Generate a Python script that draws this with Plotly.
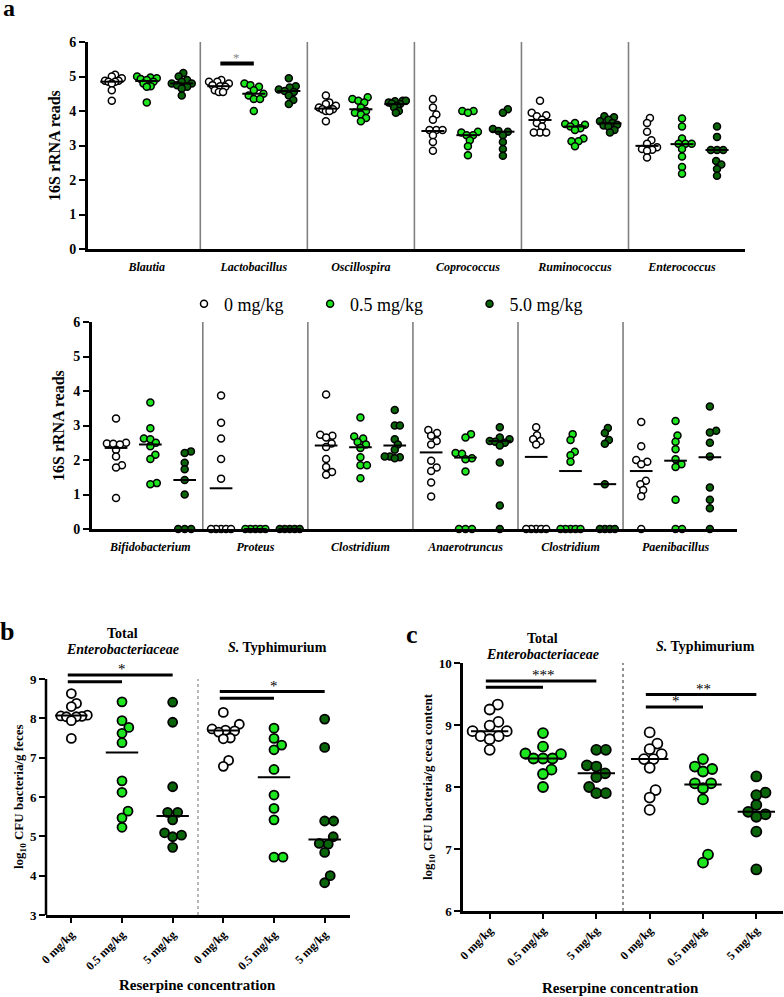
import plotly.graph_objects as go

W, H = 784, 997
FONT = "Liberation Serif"
DOSE_COLORS = ["white", "#1ee61e", "#0a640a"]
DOSE_NAMES = ["0 mg/kg", "0.5 mg/kg", "5.0 mg/kg"]
LEGEND_PAD = ["\u2002\u2002\u2009", "\u2002\u2002\u2002\u2009\u2009\u2009\u2009", ""]

# ---- panel a, top row: 16S rRNA reads for doses 0 / 0.5 / 5.0 mg/kg
top_genera = ["Blautia", "Lactobacillus", "Oscillospira", "Coprococcus", "Ruminococcus", "Enterococcus"]
blautia = [[5.05, 5.0, 4.95, 4.88, 4.88, 4.85, 4.85, 4.8, 4.6, 4.3],
           [5.0, 4.97, 4.95, 4.93, 4.9, 4.85, 4.8, 4.72, 4.7, 4.25],
           [5.1, 5.0, 4.9, 4.85, 4.8, 4.8, 4.75, 4.7, 4.65, 4.45]]
lactobacillus = [[4.9, 4.85, 4.85, 4.8, 4.75, 4.72, 4.7, 4.6, 4.55, 4.55],
                 [4.8, 4.75, 4.7, 4.6, 4.5, 4.45, 4.35, 4.35, 4.0],
                 [4.95, 4.72, 4.68, 4.62, 4.58, 4.55, 4.45, 4.32, 4.2]]
oscillospira = [[4.45, 4.25, 4.2, 4.15, 4.1, 4.05, 4.05, 4.0, 4.0, 3.7],
                [4.4, 4.35, 4.3, 4.25, 4.1, 4.0, 3.95, 3.9, 3.8, 3.7],
                [4.3, 4.3, 4.28, 4.25, 4.22, 4.2, 4.15, 4.1, 4.0, 3.95]]
coprococcus = [[4.35, 4.1, 3.9, 3.75, 3.45, 3.45, 3.45, 3.3, 3.1, 2.85],
               [4.0, 4.0, 3.95, 3.4, 3.38, 3.3, 3.3, 3.15, 2.98, 2.72],
               [4.05, 3.95, 3.48, 3.42, 3.4, 3.3, 3.1, 2.9, 2.7]]
ruminococcus = [[4.3, 3.95, 3.88, 3.85, 3.75, 3.65, 3.55, 3.38, 3.38, 3.38],
                [3.65, 3.62, 3.6, 3.55, 3.5, 3.45, 3.2, 3.12, 3.12, 2.98],
                [3.85, 3.82, 3.75, 3.7, 3.65, 3.6, 3.58, 3.55, 3.45, 3.38]]
enterococcus = [[3.8, 3.65, 3.4, 3.15, 3.05, 2.95, 2.9, 2.88, 2.85, 2.65],
                [3.78, 3.55, 3.2, 3.05, 3.05, 3.05, 2.9, 2.68, 2.38, 2.18],
                [3.55, 3.25, 2.87, 2.87, 2.87, 2.55, 2.45, 2.32, 2.12]]
top_values = [blautia, lactobacillus, oscillospira, coprococcus, ruminococcus, enterococcus]
top_centers = [[4.85, 4.87, 4.8], [4.72, 4.5, 4.58], [4.07, 4.05, 4.2],
               [3.42, 3.3, 3.4], [3.74, 3.55, 3.64], [2.99, 3.04, 2.87]]
top_sig = [(1, 0, 1, 5.38, "*")]  # group, dose a, dose b, height, label

# ---- panel a, bottom row
bottom_genera = ["Bifidobacterium", "Proteus", "Clostridium", "Anaerotruncus", "Clostridium", "Paenibacillus"]
bifidobacterium = [[3.2, 2.5, 2.48, 2.47, 2.45, 2.3, 2.1, 1.85, 1.78, 0.9],
                   [3.67, 2.92, 2.62, 2.6, 2.5, 2.4, 2.15, 2.03, 1.33, 1.3],
                   [2.25, 2.2, 1.92, 1.73, 1.42, 1.0, 0, 0, 0]]
proteus = [[3.87, 3.08, 2.62, 2.03, 1.46, 0, 0, 0, 0, 0],
           [0, 0, 0, 0, 0],
           [0, 0, 0, 0, 0]]
clostridium_1 = [[3.9, 2.73, 2.7, 2.65, 2.48, 2.38, 2.03, 1.8, 1.65, 1.57],
                 [3.23, 2.68, 2.62, 2.52, 2.45, 2.35, 2.08, 1.85, 1.85, 1.47],
                 [3.45, 3.0, 3.0, 2.6, 2.45, 2.3, 2.1, 2.1, 2.08, 2.05]]
anaerotruncus = [[2.87, 2.78, 2.7, 2.55, 2.45, 1.98, 1.78, 1.68, 1.35, 0.94],
                 [2.75, 2.65, 2.2, 2.18, 2.05, 2.02, 1.67, 0, 0, 0],
                 [2.95, 2.65, 2.6, 2.55, 2.53, 2.5, 2.42, 1.93, 0.68, 0]]
clostridium_2 = [[2.95, 2.72, 2.6, 2.55, 2.45, 0, 0, 0, 0, 0],
                 [2.75, 2.58, 2.24, 2.14, 1.95, 0, 0, 0, 0, 0],
                 [2.93, 2.78, 2.58, 2.47, 1.3, 0, 0, 0, 0]]
paenibacillus = [[3.1, 2.4, 2.0, 1.95, 1.88, 1.4, 1.3, 1.13, 0.95, 0],
                 [3.13, 2.71, 2.53, 2.31, 2.02, 1.88, 1.8, 0.85, 0, 0],
                 [3.55, 2.85, 2.8, 2.5, 2.1, 1.2, 0.85, 0.6, 0]]
bottom_values = [bifidobacterium, proteus, clostridium_1, anaerotruncus, clostridium_2, paenibacillus]
bottom_centers = [[2.35, 2.45, 1.42], [1.18, 0, 0], [2.42, 2.37, 2.42],
                  [2.22, 2.07, 2.55], [2.09, 1.68, 1.3], [1.68, 1.98, 2.08]]

# ---- panels b (feces) and c (ceca), log10 CFU
dose_ticks = ["0 mg/kg", "0.5 mg/kg", "5 mg/kg", "0 mg/kg", "0.5 mg/kg", "5 mg/kg"]
b_total = [[8.63, 8.38, 8.3, 8.08, 8.06, 8.05, 8.04, 8.04, 7.94, 7.49],
           [8.42, 7.94, 7.77, 7.62, 7.38, 6.41, 6.12, 5.64, 5.47, 5.23],
           [8.41, 7.9, 6.26, 5.61, 5.61, 5.42, 5.09, 5.03, 4.99, 4.72]]
b_typhi = [[8.15, 7.85, 7.73, 7.7, 7.68, 7.65, 7.5, 7.48, 6.93, 6.78],
           [7.75, 7.49, 7.32, 7.2, 6.7, 6.05, 5.71, 5.42, 4.47, 4.47],
           [7.98, 7.26, 5.39, 5.39, 4.99, 4.82, 4.8, 4.59, 4.0, 3.82]]
b_centers = [8.07, 7.13, 5.52, 7.69, 6.5, 4.92]
b_sig = [(0, 1, 8.93, ""), (0, 2, 9.1, "*"), (3, 4, 8.51, ""), (3, 5, 8.68, "*")]

c_total = [[9.33, 9.25, 9.05, 8.99, 8.9, 8.9, 8.82, 8.82, 8.77, 8.6],
           [8.87, 8.65, 8.54, 8.53, 8.46, 8.46, 8.46, 8.28, 8.21, 8.0],
           [8.6, 8.6, 8.35, 8.33, 8.22, 8.16, 8.0, 7.9, 7.9]]
c_typhi = [[8.88, 8.7, 8.61, 8.53, 8.45, 8.45, 8.31, 7.95, 7.83, 7.63],
           [8.45, 8.33, 8.29, 8.25, 8.06, 8.06, 7.98, 7.8, 6.91, 6.78],
           [8.17, 7.91, 7.87, 7.71, 7.6, 7.56, 7.52, 7.28, 6.67]]
c_centers = [8.9, 8.46, 8.22, 8.45, 8.04, 7.6]
c_sig = [(0, 1, 9.61, ""), (0, 2, 9.71, "***"), (3, 4, 9.29, "*"), (3, 5, 9.49, "**")]

G = 3.06  # width of one genus group in column units (panel a)


def px(x):
    return x / W


def py(y):
    return 1 - y / H


def swarm(vals, diam, ppu_y, ppu_x, limit):
    # simple beeswarm: put each point as close to the centre as it can go
    ys = [v * ppu_y for v in vals]
    xs = [0.0] * len(vals)
    placed = []
    for i in sorted(range(len(vals)), key=lambda k: ys[k]):
        y = ys[i]
        cands = [0.0]
        for qy, qx in placed:
            dy = abs(y - qy)
            if dy < diam:
                dx = (diam ** 2 - dy ** 2) ** 0.5
                cands += [qx + dx, qx - dx]
        cands.sort(key=lambda c: (abs(c), -c))
        for c in cands:
            if all((c - qx) ** 2 + (y - qy) ** 2 >= diam ** 2 - 1e-6 for qy, qx in placed):
                xs[i] = c
                break
        placed.append((y, xs[i]))
    m = max(abs(x) for x in xs)
    if m > limit:
        xs = [x * limit / m for x in xs]
    return [x / ppu_x for x in xs]


fig = go.Figure()


def add_columns(cols, xa, ya, size, lw, diam, ppu_y, ppu_x, limit, legend=False):
    # cols: list of (x position, values, dose index)
    for d in range(3):
        xs, ys = [], []
        for xc, vals, dd in cols:
            if dd != d:
                continue
            offs = swarm(vals, diam, ppu_y, ppu_x, limit)
            xs += [xc + o for o in offs]
            ys += vals
        fig.add_trace(go.Scatter(
            x=xs, y=ys, mode="markers", xaxis=xa, yaxis=ya, cliponaxis=False,
            name=DOSE_NAMES[d] + LEGEND_PAD[d], showlegend=legend, hoverinfo="skip",
            marker=dict(symbol="circle", size=size, color=DOSE_COLORS[d],
                        line=dict(color="black", width=lw))))


def add_centers(centers, xa, ya, half, lw=2):
    xs, ys = [], []
    for xc, c in centers:
        xs += [xc - half, xc + half, None]
        ys += [c, c, None]
    fig.add_trace(go.Scatter(x=xs, y=ys, mode="lines", xaxis=xa, yaxis=ya, cliponaxis=False,
                             showlegend=False, hoverinfo="skip",
                             line=dict(color="black", width=lw)))


def add_sig(bars, xa, ya, width, star_size, star_color="black", start=-0.1):
    # bars drawn as head-less annotation arrows
    for x0, x1, h, lab in bars:
        fig.add_annotation(x=x1, y=h, ax=x0 + start, ay=h, xref=xa, yref=ya, axref=xa, ayref=ya,
                           text="", showarrow=True, arrowhead=0, arrowwidth=width,
                           arrowcolor="black", standoff=0, startstandoff=0)
        if lab:
            fig.add_annotation(x=(x0 + x1) / 2, y=h, xref=xa, yref=ya, text=lab, showarrow=False,
                               xanchor="center", yanchor="bottom", yshift=-4,
                               font=dict(family=FONT, size=star_size, color=star_color))


# panel a top
cols = [(g * G + d - 1, top_values[g][d], d) for g in range(6) for d in range(3)]
add_columns(cols, "x", "y", 7, 1.5, 6.2, 34.5, 35, 10, legend=True)
add_centers([(g * G + d - 1, top_centers[g][d]) for g in range(6) for d in range(3)], "x", "y", 0.33)
add_sig([(top_sig[0][0] * G + top_sig[0][1] - 1, top_sig[0][0] * G + top_sig[0][2] - 1,
          top_sig[0][3], top_sig[0][4])], "x", "y", 4, 13, "#888888", start=0)

# panel a bottom
cols = [(g * G + d - 1, bottom_values[g][d], d) for g in range(6) for d in range(3)]
add_columns(cols, "x2", "y2", 7, 1.5, 6.5, 34.5, 34.3, 10)
add_centers([(g * G + d - 1, bottom_centers[g][d]) for g in range(6) for d in range(3)], "x2", "y2", 0.33)

# panel b
cols = [(d, b_total[d], d) for d in range(3)] + [(3 + d, b_typhi[d], d) for d in range(3)]
add_columns(cols, "x3", "y3", 9, 1.8, 9, 39.33, 50.7, 16)
add_centers(list(enumerate(b_centers)), "x3", "y3", 0.32)
add_sig(b_sig, "x3", "y3", 3, 15)

# panel c
cols = [(d, c_total[d], d) for d in range(3)] + [(3 + d, c_typhi[d], d) for d in range(3)]
add_columns(cols, "x4", "y4", 10, 1.8, 9.5, 62, 53.4, 18)
add_centers(list(enumerate(c_centers)), "x4", "y4", 0.35)
add_sig(c_sig, "x4", "y4", 3, 15)

# group separators
shapes = []
for g in range(5):
    xs = g * G + G / 2
    shapes.append(dict(type="line", xref="x", yref="y", x0=xs, x1=xs, y0=0, y1=6,
                       line=dict(color="#808080", width=1.6)))
    shapes.append(dict(type="line", xref="x2", yref="y2", x0=xs, x1=xs, y0=0, y1=6,
                       line=dict(color="#333333", width=1)))
shapes.append(dict(type="line", xref="x3", yref="y3", x0=2.5, x1=2.5, y0=3, y1=9,
                   line=dict(color="#888888", width=1.2, dash="dot")))
shapes.append(dict(type="line", xref="x4", yref="y4", x0=2.5, x1=2.5, y0=6, y1=10,
                   line=dict(color="#222222", width=1, dash="dot")))
# panel b's range runs a little past 9 so the top bar fits; its axis line stops at 9
shapes.append(dict(type="line", xref="x3 domain", yref="y3", x0=0, x1=0, y0=3, y1=9,
                   line=dict(color="black", width=2.5)))


def y_axis(dom, rng, ticks, anchor, size, lw=3, line=True):
    vals = list(range(ticks[0], ticks[1] + 1))
    return dict(domain=dom, range=rng, anchor=anchor, tickvals=vals,
                ticktext=["<b>%d</b>" % v for v in vals], showline=line, linecolor="black",
                linewidth=lw, ticks="outside", ticklen=6, tickwidth=2, tickcolor="black",
                showgrid=False, zeroline=False, automargin=False,
                tickfont=dict(family=FONT, size=size, color="black"))


def genus_axis(dom, rng, anchor, names):
    return dict(domain=dom, range=rng, anchor=anchor, showline=True, linecolor="black",
                linewidth=3, ticks="", tickvals=[g * G for g in range(6)],
                ticktext=["<b><i>%s</i></b>" % s for s in names], ticklabelstandoff=5,
                tickfont=dict(family=FONT, size=12, color="black"), showgrid=False,
                zeroline=False, automargin=False)


def dose_axis(dom, anchor):
    return dict(domain=dom, range=[-0.5, 5.5], anchor=anchor, showline=True, linecolor="black",
                linewidth=2.5, ticks="outside", ticklen=5, tickwidth=2, tickcolor="black",
                tickvals=list(range(6)), ticktext=["<b>%s</b>" % t for t in dose_ticks],
                tickangle=-45, tickfont=dict(family=FONT, size=12, color="black"),
                showgrid=False, zeroline=False, automargin=False)


layout_axes = dict(
    xaxis=genus_axis([px(88), px(745)], [-1.68, 17.1], "y", top_genera),
    yaxis=y_axis([py(249), py(42)], [0, 6], [0, 6], "x", 14),
    xaxis2=genus_axis([px(92), px(737)], [-1.7, 17.09], "y2", bottom_genera),
    yaxis2=y_axis([py(529), py(322)], [0, 6], [0, 6], "x2", 14),
    xaxis3=dose_axis([px(46), px(350)], "y3"),
    yaxis3=y_axis([py(915), py(679 - 0.3 * 39.33)], [3, 9.3], [3, 9], "x3", 13, lw=2.5, line=False),
    xaxis4=dose_axis([px(463), px(783)], "y4"),
    yaxis4=y_axis([py(911), py(663)], [6, 10], [6, 10], "x4", 13, lw=2.5),
)


def note(x, y, text, size, angle=0):
    fig.add_annotation(x=px(x), y=py(y), xref="paper", yref="paper", text=text, showarrow=False,
                       xanchor="center", yanchor="middle", textangle=angle,
                       font=dict(family=FONT, size=size, color="black"))


note(9, 8, "<b>a</b>", 24)
note(7, 631, "<b>b</b>", 26)
note(412, 634, "<b>c</b>", 26)
note(55, 145, "<b>16S rRNA reads</b>", 16, -90)
note(58, 426, "<b>16S rRNA reads</b>", 16, -90)
note(19, 797, "<b>log<sub>10</sub> CFU bacteria/g feces</b>", 13, -90)
note(428, 787, "<b>log<sub>10</sub> CFU bacteria/g ceca content</b>", 13, -90)
note(122, 633, "<b>Total</b>", 14)
note(122, 649, "<b><i>Enterobacteriaceae</i></b>", 14)
note(277, 647, "<b><i>S.</i> Typhimurium</b>", 14)
note(542, 638, "<b>Total</b>", 14)
note(542, 654, "<b><i>Enterobacteriaceae</i></b>", 14)
note(705, 646, "<b><i>S.</i> Typhimurium</b>", 14)
note(198, 985, "<b>Reserpine concentration</b>", 15)
note(620, 988, "<b>Reserpine concentration</b>", 15)

fig.update_layout(
    width=W, height=H, margin=dict(l=0, r=0, t=0, b=0),
    paper_bgcolor="white", plot_bgcolor="white",
    shapes=shapes, showlegend=True,
    legend=dict(orientation="h", x=px(184), y=py(304), xanchor="left", yanchor="middle",
                font=dict(family=FONT, size=18, color="black"), bgcolor="rgba(0,0,0,0)",
                itemclick=False, itemdoubleclick=False),
    **layout_axes,
)

# the page body has a default 8px margin; drop it so the figure sits at the window corner
fig.write_html("out.html", config={"displayModeBar": False},
               post_script="document.body.style.margin='0';")
